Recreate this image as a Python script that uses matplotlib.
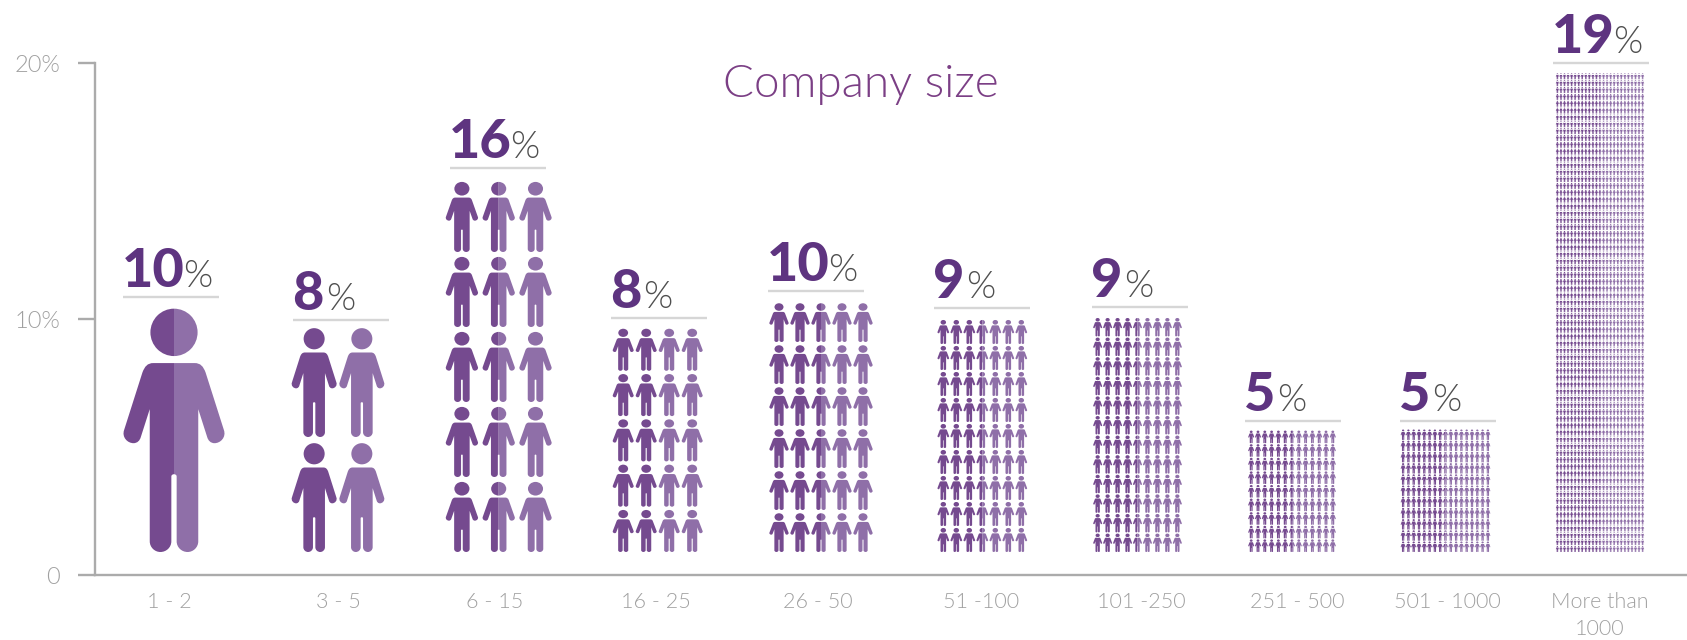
import numpy as np
import matplotlib
matplotlib.use('Agg')
import matplotlib.pyplot as plt
from matplotlib.patches import PathPatch
from matplotlib.path import Path
from matplotlib.transforms import Affine2D

CATEGORIES = ['1 - 2', '3 - 5', '6 - 15', '16 - 25', '26 - 50', '51 -100', '101 -250',
              '251 - 500', '501 - 1000', 'More than\n1000']
SHARES = [10, 8, 16, 8, 10, 9, 9, 5, 5, 19]
RULE_LEVELS = [10.87, 9.96, 15.9, 10.03, 11.1, 10.42, 10.46, 6.02, 6.02, 20.0]

# layout of the pictograms, all in pixels of the 1687x640 picture
TICK_X = [169, 338, 495, 656, 818, 981, 1141, 1297, 1447, 1600]
GROUP_X = [174, 338, 498.7, 657.7, 821, 982.3, 1137.5, 1292, 1445.5, 1600]
RULE_X = [123.3, 293.3, 450, 611, 768, 934, 1091.7, 1245, 1400, 1553.3]
COLS = [1, 2, 3, 4, 5, 7, 9, 13, 17, 25]
ROWS = [1, 2, 5, 5, 6, 9, 12, 9, 11, 70]
COL_STEP = [0, 47.7, 36.8, 23, 21, 13, 9.96, 6.8, 5.3, 3.55]
ROW_STEP = [0, 115, 75, 45.3, 42, 26, 19.6, 13.6, 11.2, 6.85]
FIG_W = [101, 45, 32.3, 21, 19.3, 11.7, 9, 6, 4.8, 3.1]
FIG_H = [243, 108.7, 70, 42, 38.7, 24, 18.4, 12.6, 10.5, 6.0]

DARK = '#754A8F'
LIGHT = '#8F6FA8'
NUMBER = '#5E3480'
GREY = '#ABABAB'
LABEL_GREY = '#A0A0A0'
LIGHT_WEIGHT = 300  # 'light' in matplotlib lands on Lato Hairline
PX_PER_PCT = 512 / 20
FEET_LEVEL = 23 / PX_PER_PCT


def half_body():
    # right half of the figure, measured off the big one, y from the feet up
    verts = [(0, 490), (62, 490), (80, 490), (88, 500), (95, 518), (150, 690),
             (158, 712), (140, 730), (122, 730), (110, 730), (103, 722), (100, 712),
             (73, 628), (73, 1024), (73, 1042), (58, 1056), (41, 1056),
             (23, 1056), (8, 1042), (8, 1024), (8, 830), (8, 825), (4, 823), (0, 823)]
    codes = [Path.MOVETO, Path.LINETO, Path.CURVE4, Path.CURVE4, Path.CURVE4, Path.LINETO,
             Path.CURVE4, Path.CURVE4, Path.CURVE4, Path.CURVE4, Path.CURVE4, Path.CURVE4,
             Path.LINETO, Path.LINETO, Path.CURVE4, Path.CURVE4, Path.CURVE4,
             Path.CURVE4, Path.CURVE4, Path.CURVE4, Path.LINETO, Path.CURVE4, Path.CURVE4, Path.CURVE4]
    verts = np.array(verts, dtype=float)
    verts[:, 0] = verts[:, 0] / 152
    verts[:, 1] = (1056 - verts[:, 1]) / 728
    return verts, codes


def close_path(verts, codes):
    return Path(np.vstack([verts, verts[0]]), list(codes) + [Path.CLOSEPOLY])


def make_glyphs():
    verts, codes = half_body()
    right = close_path(verts, codes)
    mirrored = verts * [-1, 1]
    left = close_path(mirrored, codes)
    # whole outline, so that one colour has no seam down the middle
    back = mirrored[::-1][1:]
    back_codes = codes[1:]
    whole = close_path(np.vstack([verts, back]), list(codes) + back_codes[::-1])

    arc = Path.arc(-90, 90)
    to_head = Affine2D().scale(71 / 152, 71 / 728).translate(0, (1056 - 398) / 728)
    head_r = close_path(arc.vertices, arc.codes).transformed(to_head)
    head_l = head_r.transformed(Affine2D().scale(-1, 1))
    head = Path.unit_circle().transformed(to_head)

    return {
        'whole': Path.make_compound_path(whole, head),
        'left': Path.make_compound_path(left, head_l),
        'right': Path.make_compound_path(right, head_r),
    }


def place(path, cx, bottom, w, h):
    return path.transformed(Affine2D().scale(w / 2, h / PX_PER_PCT).translate(cx, bottom))


def draw_group(ax, glyphs, i):
    dark, light = [], []
    cols, rows = COLS[i], ROWS[i]
    for c in range(cols):
        cx = GROUP_X[i] + (c - (cols - 1) / 2) * COL_STEP[i]
        for r in range(rows):
            bottom = FEET_LEVEL + r * ROW_STEP[i] / PX_PER_PCT
            if c * 2 + 1 < cols:
                dark.append(place(glyphs['whole'], cx, bottom, FIG_W[i], FIG_H[i]))
            elif c * 2 + 1 > cols:
                light.append(place(glyphs['whole'], cx, bottom, FIG_W[i], FIG_H[i]))
            else:
                dark.append(place(glyphs['left'], cx, bottom, FIG_W[i], FIG_H[i]))
                light.append(place(glyphs['right'], cx, bottom, FIG_W[i], FIG_H[i]))
    for paths, color in [(dark, DARK), (light, LIGHT)]:
        ax.add_patch(PathPatch(Path.make_compound_path(*paths), facecolor=color,
                               edgecolor='none', linewidth=0, clip_on=False))


fig = plt.figure(figsize=(16.87, 6.4), dpi=100)
ax = fig.add_axes([95 / 1687, 65 / 640, 1592 / 1687, 512 / 640])
ax.set_xlim(95, 1687)
ax.set_ylim(0, 20)

ax.spines['top'].set_visible(False)
ax.spines['right'].set_visible(False)
for side in ['left', 'bottom']:
    ax.spines[side].set_color(GREY)
    ax.spines[side].set_linewidth(1.7)

ax.set_yticks([0, 10, 20])
ax.set_yticklabels(['0', '10%', '20%'], family='Lato', weight=LIGHT_WEIGHT, fontsize=17, color=LABEL_GREY)
ax.tick_params(axis='y', length=12, width=1.7, color=GREY, pad=13)
ax.set_xticks(TICK_X)
ax.set_xticklabels(CATEGORIES, family='Lato', weight=LIGHT_WEIGHT, fontsize=15.5, color=LABEL_GREY, linespacing=1.45)
ax.tick_params(axis='x', length=0, pad=12)

glyphs = make_glyphs()
renderer = fig.canvas.get_renderer()
for i in range(len(CATEGORIES)):
    draw_group(ax, glyphs, i)
    ax.plot([RULE_X[i], RULE_X[i] + 96], [RULE_LEVELS[i]] * 2, color='#D6D6D6', lw=1.7,
            solid_capstyle='butt', clip_on=False)
    text_y = RULE_LEVELS[i] + 10 / PX_PER_PCT
    num = ax.text(RULE_X[i] - 1, text_y, str(SHARES[i]), family='Lato', weight='black',
                  fontsize=39, color=NUMBER, va='baseline', ha='left')
    end = num.get_window_extent(renderer).x1
    gap = 2 if SHARES[i] < 10 else -2
    ax.text(end + gap, text_y, '%', family='Lato', weight=LIGHT_WEIGHT, fontsize=27,
            color='#4F4F4F', va='baseline', ha='left')

ax.text(861, (575 - 97) / PX_PER_PCT, 'Company size', family='Lato', weight=LIGHT_WEIGHT, fontsize=33,
        color='#7B3F85', ha='center', va='baseline')

fig.savefig('out.png', dpi=100)
